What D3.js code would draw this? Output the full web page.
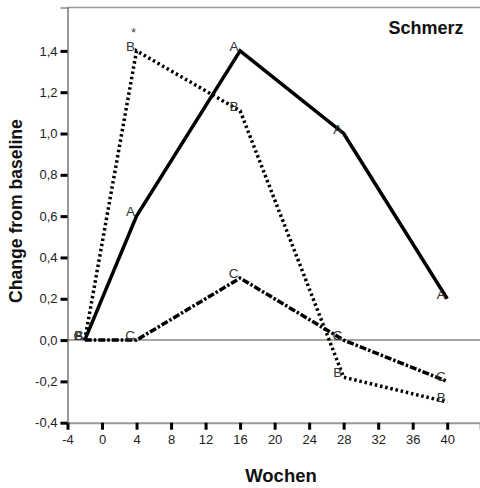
<!DOCTYPE html>
<html>
<head>
<meta charset="utf-8">
<script src="https://cdn.jsdelivr.net/npm/d3@7"></script>
<style>
  html, body { margin: 0; padding: 0; background: #fff; }
  svg { display: block; font-family: Arial, "Liberation Sans", sans-serif; }
</style>
</head>
<body>
<svg id="chart" width="480" height="488"></svg>
<script>
// weeks on x, change from baseline on y
const weeks = [-2, 4, 16, 28, 40];
const seriesA = [0, 0.6, 1.4, 1.0, 0.2];
const seriesB = [0, 1.4, 1.11, -0.18, -0.3];
const seriesC = [0, 0, 0.3, 0.0, -0.2];
const xTicks = [-4, 0, 4, 8, 12, 16, 20, 24, 28, 32, 36, 40];
const yTicks = [-0.4, -0.2, 0, 0.2, 0.4, 0.6, 0.8, 1.0, 1.2, 1.4];
const starred = [{ series: 'B', week: 4 }];   // significance mark

const M = { left: 67.5, top: 7.5, right: 480, bottom: 422.7 };
const FONT = 'Arial, "Liberation Sans", sans-serif';

const svg = d3.select('#chart');
const x = d3.scaleLinear().domain([-4, 43.8]).range([M.left, M.right]);
const y = d3.scaleLinear().domain([-0.4, 1.61]).range([M.bottom, M.top]);
const comma = v => d3.format('.1f')(v).replace('.', ',').replace('\u2212', '-');

// frame: top + zero line
svg.append('line').attr('x1', M.left).attr('x2', M.right).attr('y1', M.top).attr('y2', M.top)
  .attr('stroke', '#999').attr('stroke-width', 1.5);
svg.append('line').attr('x1', M.left).attr('x2', M.right).attr('y1', y(0)).attr('y2', y(0))
  .attr('stroke', '#888').attr('stroke-width', 1.5);

const xAxis = svg.append('g').attr('transform', `translate(0,${M.bottom})`)
  .call(d3.axisBottom(x).tickValues(xTicks).tickSize(7).tickPadding(5)
    .tickFormat(v => String(v)));
xAxis.select('.domain').attr('stroke', '#999').attr('stroke-width', 2);

const yAxis = svg.append('g').attr('transform', `translate(${M.left},0)`)
  .call(d3.axisLeft(y).tickValues(yTicks).tickSize(7).tickPadding(3).tickFormat(comma));
yAxis.select('.domain').attr('stroke', '#555').attr('stroke-width', 1.2);

[xAxis, yAxis].forEach(g => {
  g.attr('font-family', FONT).attr('font-size', 13);
  g.selectAll('.tick line').attr('stroke', '#000').attr('stroke-width', 3);
  g.selectAll('.tick text').attr('fill', '#222');
});

// series lines
const series = [
  { name: 'A', values: seriesA, dash: null,        width: 3.5 },
  { name: 'B', values: seriesB, dash: '2.5,2.8',   width: 3.5 },
  { name: 'C', values: seriesC, dash: '7,2,2.5,2', width: 3.5 },
];
const line = d3.line().x(d => x(d[0])).y(d => y(d[1]));

series.forEach(s => {
  const pts = weeks.map((w, i) => [w, s.values[i]]);
  svg.append('path').datum(pts)
    .attr('d', line)
    .attr('fill', 'none')
    .attr('stroke', '#000')
    .attr('stroke-width', s.width)
    .attr('stroke-dasharray', s.dash)
    .attr('stroke-linejoin', 'miter');

  svg.append('g').selectAll('text').data(pts).join('text')
    .attr('x', d => x(d[0]) - 1.5)
    .attr('y', d => y(d[1]))
    .attr('text-anchor', 'end')
    .attr('font-size', 13.5)
    .attr('fill', '#333')
    .text(s.name);
});

starred.forEach(st => {
  const s = series.find(d => d.name === st.series);
  const i = weeks.indexOf(st.week);
  svg.append('text')
    .attr('x', x(st.week) - 3)
    .attr('y', y(s.values[i]) - 14)
    .attr('text-anchor', 'middle')
    .attr('font-size', 12)
    .attr('fill', '#333')
    .text('*');
});

// titles
svg.append('text')
  .attr('transform', `translate(22,211) rotate(-90)`)
  .attr('text-anchor', 'middle')
  .attr('font-size', 17.6).attr('font-weight', 'bold').attr('fill', '#111')
  .text('Change from baseline');

svg.append('text')
  .attr('x', 281).attr('y', 482)
  .attr('text-anchor', 'middle')
  .attr('font-size', 18.5).attr('font-weight', 'bold').attr('fill', '#111')
  .text('Wochen');

svg.append('text')
  .attr('x', 426).attr('y', 34)
  .attr('text-anchor', 'middle')
  .attr('font-size', 18).attr('font-weight', 'bold').attr('fill', '#111')
  .text('Schmerz');
</script>
</body>
</html>
